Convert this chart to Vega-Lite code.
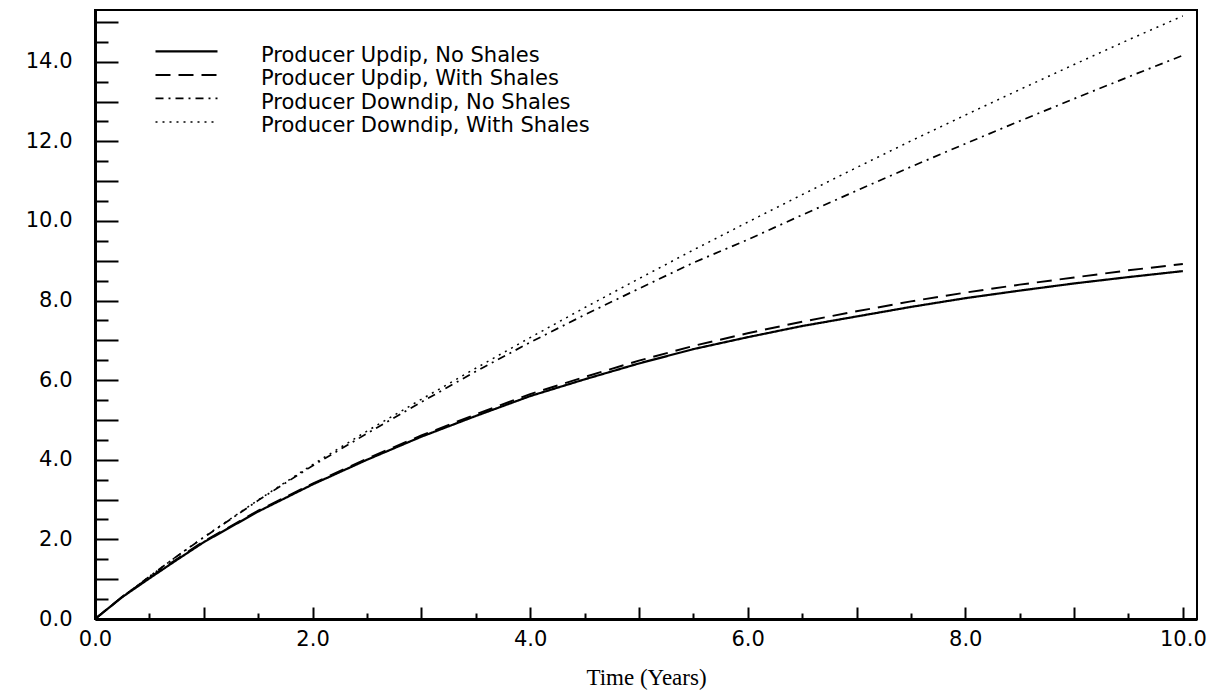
{
  "$schema": "https://vega.github.io/schema/vega-lite/v6.json",
  "width": 1102,
  "height": 609,
  "autosize": {"type": "none"},
  "padding": {"left": 95, "top": 10, "right": 32, "bottom": 74},
  "background": "white",
  "config": {
    "view": {"stroke": "black", "strokeWidth": 2},
    "axis": {
      "labelFont": "DejaVu Sans",
      "labelFontSize": 21,
      "labelColor": "black",
      "domainColor": "black",
      "tickColor": "black",
      "grid": false,
      "labelFlush": false,
      "labelOverlap": false
    },
    "legend": {
      "orient": "none",
      "legendX": 60,
      "legendY": 35,
      "padding": 0,
      "symbolType": "M-10,-1.3H10",
      "symbolSize": 38.44,
      "symbolStrokeColor": "black",
      "symbolFillColor": "transparent",
      "symbolOffset": 21,
      "labelFont": "DejaVu Sans",
      "labelFontSize": 21,
      "labelColor": "black",
      "labelOffset": 64,
      "labelLimit": 800,
      "rowPadding": 1.5
    }
  },
  "data": {
    "values": [
      {"t": 0, "Producer Updip, No Shales": 0, "Producer Updip, With Shales": 0, "Producer Downdip, No Shales": 0, "Producer Downdip, With Shales": 0},
      {"t": 0.25, "Producer Updip, No Shales": 0.55, "Producer Updip, With Shales": 0.56, "Producer Downdip, No Shales": 0.55, "Producer Downdip, With Shales": 0.55},
      {"t": 0.5, "Producer Updip, No Shales": 1.02, "Producer Updip, With Shales": 1.04, "Producer Downdip, No Shales": 1.07, "Producer Downdip, With Shales": 1.07},
      {"t": 0.75, "Producer Updip, No Shales": 1.48, "Producer Updip, With Shales": 1.5, "Producer Downdip, No Shales": 1.57, "Producer Downdip, With Shales": 1.57},
      {"t": 1.0, "Producer Updip, No Shales": 1.93, "Producer Updip, With Shales": 1.95, "Producer Downdip, No Shales": 2.05, "Producer Downdip, With Shales": 2.06},
      {"t": 1.5, "Producer Updip, No Shales": 2.7, "Producer Updip, With Shales": 2.72, "Producer Downdip, No Shales": 2.98, "Producer Downdip, With Shales": 2.99},
      {"t": 2.0, "Producer Updip, No Shales": 3.38, "Producer Updip, With Shales": 3.4, "Producer Downdip, No Shales": 3.85, "Producer Downdip, With Shales": 3.88},
      {"t": 2.5, "Producer Updip, No Shales": 4.0, "Producer Updip, With Shales": 4.03, "Producer Downdip, No Shales": 4.66, "Producer Downdip, With Shales": 4.72},
      {"t": 3.0, "Producer Updip, No Shales": 4.58, "Producer Updip, With Shales": 4.61, "Producer Downdip, No Shales": 5.45, "Producer Downdip, With Shales": 5.52},
      {"t": 3.5, "Producer Updip, No Shales": 5.1, "Producer Updip, With Shales": 5.14, "Producer Downdip, No Shales": 6.22, "Producer Downdip, With Shales": 6.3},
      {"t": 4.0, "Producer Updip, No Shales": 5.6, "Producer Updip, With Shales": 5.65, "Producer Downdip, No Shales": 6.95, "Producer Downdip, With Shales": 7.07},
      {"t": 4.5, "Producer Updip, No Shales": 6.02, "Producer Updip, With Shales": 6.08, "Producer Downdip, No Shales": 7.64, "Producer Downdip, With Shales": 7.82},
      {"t": 5.0, "Producer Updip, No Shales": 6.42, "Producer Updip, With Shales": 6.49, "Producer Downdip, No Shales": 8.3, "Producer Downdip, With Shales": 8.55},
      {"t": 5.5, "Producer Updip, No Shales": 6.78, "Producer Updip, With Shales": 6.86, "Producer Downdip, No Shales": 8.95, "Producer Downdip, With Shales": 9.27},
      {"t": 6.0, "Producer Updip, No Shales": 7.08, "Producer Updip, With Shales": 7.18, "Producer Downdip, No Shales": 9.53, "Producer Downdip, With Shales": 9.97},
      {"t": 6.5, "Producer Updip, No Shales": 7.36, "Producer Updip, With Shales": 7.47, "Producer Downdip, No Shales": 10.15, "Producer Downdip, With Shales": 10.66},
      {"t": 7.0, "Producer Updip, No Shales": 7.6, "Producer Updip, With Shales": 7.73, "Producer Downdip, No Shales": 10.76, "Producer Downdip, With Shales": 11.34},
      {"t": 7.5, "Producer Updip, No Shales": 7.84, "Producer Updip, With Shales": 7.98, "Producer Downdip, No Shales": 11.36, "Producer Downdip, With Shales": 12.01},
      {"t": 8.0, "Producer Updip, No Shales": 8.06, "Producer Updip, With Shales": 8.2, "Producer Downdip, No Shales": 11.94, "Producer Downdip, With Shales": 12.66},
      {"t": 8.5, "Producer Updip, No Shales": 8.25, "Producer Updip, With Shales": 8.4, "Producer Downdip, No Shales": 12.51, "Producer Downdip, With Shales": 13.3},
      {"t": 9.0, "Producer Updip, No Shales": 8.43, "Producer Updip, With Shales": 8.58, "Producer Downdip, No Shales": 13.07, "Producer Downdip, With Shales": 13.93},
      {"t": 9.5, "Producer Updip, No Shales": 8.59, "Producer Updip, With Shales": 8.76, "Producer Downdip, No Shales": 13.62, "Producer Downdip, With Shales": 14.55},
      {"t": 10.0, "Producer Updip, No Shales": 8.74, "Producer Updip, With Shales": 8.92, "Producer Downdip, No Shales": 14.16, "Producer Downdip, With Shales": 15.15}
    ]
  },
  "transform": [
    {
      "fold": ["Producer Updip, No Shales", "Producer Updip, With Shales", "Producer Downdip, No Shales", "Producer Downdip, With Shales"],
      "as": ["series", "v"]
    }
  ],
  "resolve": {"axis": {"x": "independent", "y": "independent"}},
  "layer": [
    {
      "mark": {"type": "line", "color": "black", "strokeCap": "butt"},
      "encoding": {
        "x": {
          "field": "t",
          "type": "quantitative",
          "scale": {"domain": [0, 10.13], "nice": false, "zero": false},
          "axis": {
            "orient": "bottom",
            "values": [0, 2, 4, 6, 8, 10],
            "format": ".1f",
            "ticks": false,
            "domainWidth": 3,
            "labelPadding": 9,
            "title": "Time (Years)",
            "titleFont": "Liberation Serif",
            "titleFontSize": 23,
            "titleFontWeight": "normal",
            "titleColor": "black",
            "titlePadding": 17
          }
        },
        "y": {
          "field": "v",
          "type": "quantitative",
          "scale": {"domain": [0, 15.3], "nice": false, "zero": false},
          "axis": {
            "orient": "left",
            "values": [0, 2, 4, 6, 8, 10, 12, 14],
            "format": ".1f",
            "ticks": false,
            "domainWidth": 3,
            "labelPadding": 23,
            "title": null
          }
        },
        "strokeDash": {
          "field": "series",
          "type": "nominal",
          "scale": {
            "domain": ["Producer Updip, No Shales", "Producer Updip, With Shales", "Producer Downdip, No Shales", "Producer Downdip, With Shales"],
            "range": [[1, 0], [15, 8], [8, 5, 2, 5], [2, 5]]
          },
          "legend": {"title": null}
        },
        "strokeWidth": {
          "field": "series",
          "type": "nominal",
          "scale": {
            "domain": ["Producer Updip, No Shales", "Producer Updip, With Shales", "Producer Downdip, No Shales", "Producer Downdip, With Shales"],
            "range": [2.2, 1.5, 1.3, 1.3]
          },
          "legend": {"title": null}
        }
      }
    },
    {
      "mark": {"type": "point", "opacity": 0},
      "encoding": {
        "x": {
          "field": "t",
          "type": "quantitative",
          "scale": {"domain": [0, 10.13], "nice": false, "zero": false},
          "axis": {"orient": "bottom", "values": [0, 1, 2, 3, 4, 5, 6, 7, 8, 9, 10], "tickSize": -12, "tickWidth": 2, "labels": false, "domain": false, "title": null}
        },
        "y": {
          "field": "v",
          "type": "quantitative",
          "scale": {"domain": [0, 15.3], "nice": false, "zero": false},
          "axis": {"orient": "left", "values": [0, 1, 2, 3, 4, 5, 6, 7, 8, 9, 10, 11, 12, 13, 14, 15], "tickSize": -23, "tickWidth": 2, "labels": false, "domain": false, "title": null}
        }
      }
    },
    {
      "mark": {"type": "point", "opacity": 0},
      "encoding": {
        "x": {
          "field": "t",
          "type": "quantitative",
          "scale": {"domain": [0, 10.13], "nice": false, "zero": false},
          "axis": {"orient": "bottom", "values": [0.5, 1.5, 2.5, 3.5, 4.5, 5.5, 6.5, 7.5, 8.5, 9.5], "tickSize": -6, "tickWidth": 2, "labels": false, "domain": false, "title": null}
        },
        "y": {
          "field": "v",
          "type": "quantitative",
          "scale": {"domain": [0, 15.3], "nice": false, "zero": false},
          "axis": {"orient": "left", "values": [0.5, 1.5, 2.5, 3.5, 4.5, 5.5, 6.5, 7.5, 8.5, 9.5, 10.5, 11.5, 12.5, 13.5, 14.5], "tickSize": -13, "tickWidth": 2, "labels": false, "domain": false, "title": null}
        }
      }
    }
  ]
}
